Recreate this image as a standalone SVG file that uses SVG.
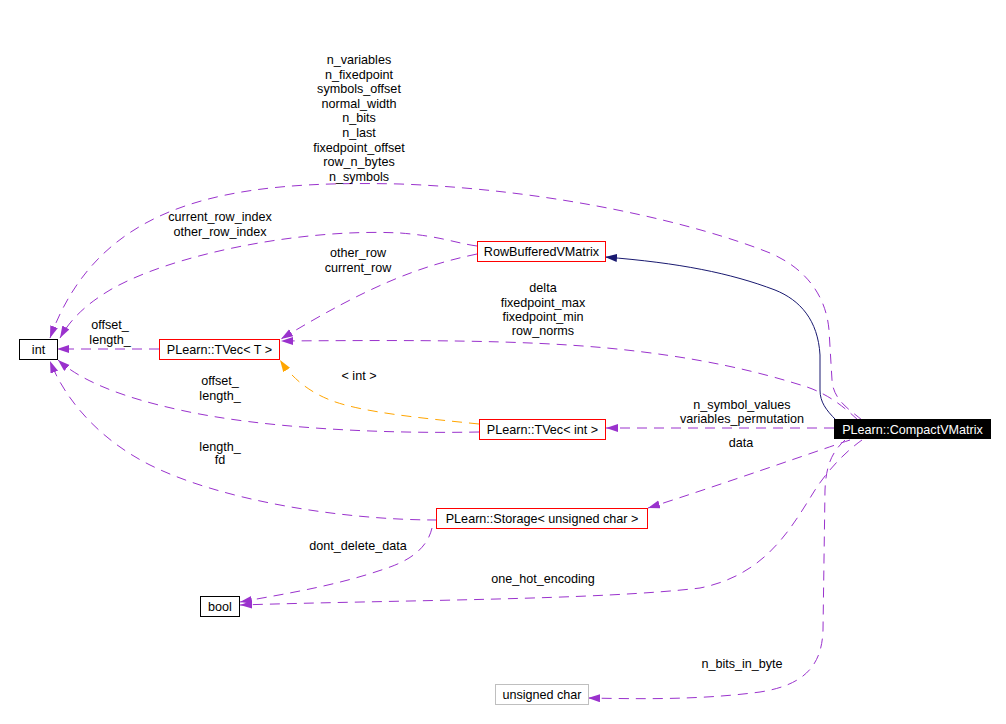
<svg xmlns="http://www.w3.org/2000/svg" width="1006" height="724" viewBox="0 0 1006 724">
<style>
text{font-family:"Liberation Sans",Arial,sans-serif;font-size:12.6px;fill:#000;text-anchor:middle}
.box{fill:#fff;stroke-width:1}
.red{stroke:#ff0000}
.blk{stroke:#000}
.gry{stroke:#bfbfbf}
.e{fill:none;stroke:#9a32cd;stroke-width:1;stroke-dasharray:10,7;marker-end:url(#ap)}
.o{fill:none;stroke:#ffa500;stroke-width:1;stroke-dasharray:10,7;marker-end:url(#ao)}
.n{fill:none;stroke:#191970;stroke-width:1;marker-end:url(#an)}
</style>
<defs>
<marker id="ap" markerUnits="userSpaceOnUse" markerWidth="13" markerHeight="9" refX="12" refY="4" orient="auto"><path d="M0,0 L12,4 L0,8 z" fill="#9a32cd"/></marker>
<marker id="ao" markerUnits="userSpaceOnUse" markerWidth="13" markerHeight="9" refX="12" refY="4" orient="auto"><path d="M0,0 L12,4 L0,8 z" fill="#ffa500"/></marker>
<marker id="an" markerUnits="userSpaceOnUse" markerWidth="13" markerHeight="9" refX="12" refY="4" orient="auto"><path d="M0,0 L12,4 L0,8 z" fill="#191970"/></marker>
</defs>
<rect width="1006" height="724" fill="#fff"/>
<g id="connectors">
<path class="e" d="M862,420 C850,410 833,400 832,380 L829,330 C826,295 805,268 770,253 C700,225 560,190 400,184 C230,180 100,200 50,338"/>
<path class="n" d="M836,420 C826,410 820,402 820,390 L820,355 C818,320 800,300 775,290 C730,273 680,263 605,257"/>
<path class="e" d="M477,246 C455,243 440,236 400,233 C300,228 170,255 110,290 C85,305 70,320 60,338"/>
<path class="e" d="M477,254 C420,266 370,285 281,339"/>
<path class="e" d="M858,420 C845,408 830,395 807,387 C760,372 700,357 607,348 C520,340 420,340 281,341"/>
<path class="o" d="M479,424 C420,418 360,412 330,400 C305,390 290,375 280,360"/>
<path class="e" d="M479,432 C380,434 260,428 180,410 C120,397 80,380 58,360"/>
<path class="e" d="M159,349 L57,349"/>
<path class="e" d="M834,428 L606,428"/>
<path class="e" d="M850,440 C820,450 720,485 648,508"/>
<path class="e" d="M437,520 C340,520 220,500 150,465 C100,440 65,400 50,361"/>
<path class="e" d="M432,528 C428,545 415,558 390,567 C340,585 290,593 240,602"/>
<path class="e" d="M862,440 C845,452 828,470 815,490 C790,530 765,575 700,588 C600,600 400,600 240,605"/>
<path class="e" d="M845,440 C832,452 826,465 825,490 L823,630 C822,665 805,685 760,692 C700,700 640,699 588,698"/>
</g>
<g id="labels">
<text x="359" y="64">n_variables</text>
<text x="359" y="78.6">n_fixedpoint</text>
<text x="359" y="93.2">symbols_offset</text>
<text x="359" y="107.8">normal_width</text>
<text x="359" y="122.4">n_bits</text>
<text x="359" y="137">n_last</text>
<text x="359" y="151.6">fixedpoint_offset</text>
<text x="359" y="166.2">row_n_bytes</text>
<text x="359" y="180.8">n_symbols</text>
<text x="220" y="220.7">current_row_index</text>
<text x="220" y="235.7">other_row_index</text>
<text x="358" y="256.7">other_row</text>
<text x="358" y="271.5">current_row</text>
<text x="110" y="329">offset_</text>
<text x="110" y="344">length_</text>
<text x="543" y="292.3">delta</text>
<text x="543" y="306.5">fixedpoint_max</text>
<text x="543" y="320.7">fixedpoint_min</text>
<text x="543" y="335">row_norms</text>
<text x="359" y="380">&lt; int &gt;</text>
<text x="220" y="385">offset_</text>
<text x="220" y="400">length_</text>
<text x="220" y="450.7">length_</text>
<text x="220" y="464">fd</text>
<text x="742" y="408.5">n_symbol_values</text>
<text x="742" y="423">variables_permutation</text>
<text x="741" y="446.5">data</text>
<text x="358" y="550">dont_delete_data</text>
<text x="543" y="582.5">one_hot_encoding</text>
<text x="742" y="668.3">n_bits_in_byte</text>
</g>
<g id="node-int"><rect class="box blk" x="19.5" y="339.5" width="38" height="20"/><text x="38.5" y="354">int</text></g>
<g id="node-bool"><rect class="box blk" x="200.5" y="596.5" width="39" height="20"/><text x="220" y="611">bool</text></g>
<g id="node-uchar"><rect class="box gry" x="495.5" y="684.5" width="93" height="20"/><text x="542" y="699">unsigned char</text></g>
<g id="node-tvecT"><rect class="box red" x="159.5" y="339.5" width="120" height="20"/><text x="219.5" y="354">PLearn::TVec&lt; T &gt;</text></g>
<g id="node-rowbuffered"><rect class="box red" x="477.5" y="241.5" width="128" height="20"/><text x="541.5" y="256">RowBufferedVMatrix</text></g>
<g id="node-tvecint"><rect class="box red" x="479.5" y="419.5" width="126" height="20"/><text x="542.5" y="434">PLearn::TVec&lt; int &gt;</text></g>
<g id="node-storage"><rect class="box red" x="436.5" y="508.5" width="211" height="20"/><text x="542" y="523">PLearn::Storage&lt; unsigned char &gt;</text></g>
<g id="node-compact"><rect x="834" y="419" width="157" height="20" fill="#000"/><text x="912.5" y="434" style="fill:#fff">PLearn::CompactVMatrix</text></g>
</svg>
